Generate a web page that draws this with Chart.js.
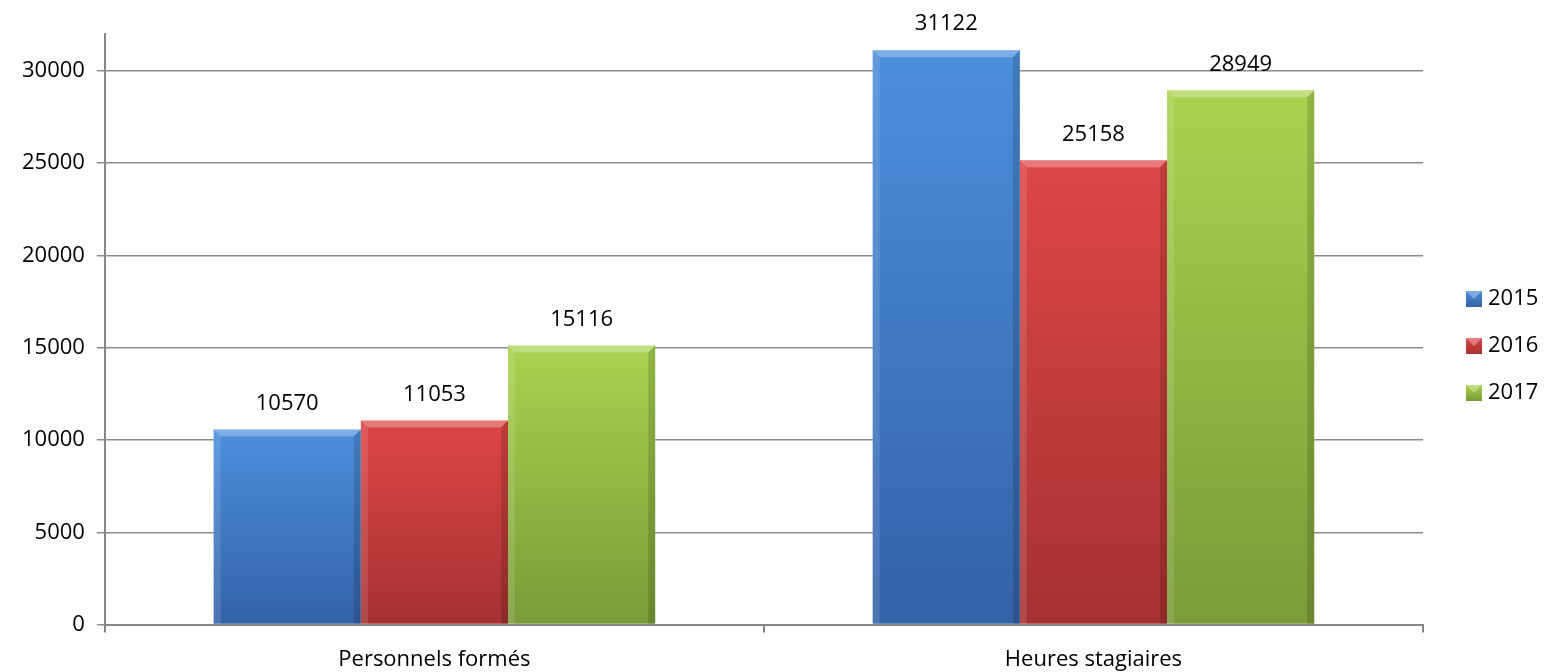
<!DOCTYPE html>
<html lang="fr">
<head>
    <meta charset="UTF-8">
    <title>Personnels formés / Heures stagiaires</title>
    <script src="https://cdn.jsdelivr.net/npm/chart.js"></script>
    <style>
        * { margin: 0; padding: 0; box-sizing: border-box; }
        body { background: #fff; width: 1547px; height: 672px; overflow: hidden; }
        .wrap { position: relative; width: 1547px; height: 672px; }
    </style>
</head>
<body>
    <div class="wrap">
        <canvas id="chart" width="1547" height="672"></canvas>
    </div>

    <script>
        // Données
        const categories = ['Personnels formés', 'Heures stagiaires'];
        const years = ['2015', '2016', '2017'];
        const values2015 = [10570, 31122];
        const values2016 = [11053, 25158];
        const values2017 = [15116, 28949];
        const yTicks = [0, 5000, 10000, 15000, 20000, 25000, 30000];

        // Couleurs (haut / bas du dégradé)
        const palette = [
            { top: '#4c8fdd', bottom: '#3362a6', flat: '#3f7ac6' },
            { top: '#de4646', bottom: '#a53131', flat: '#c33c3c' },
            { top: '#a9d34f', bottom: '#7a9b37', flat: '#94b844' }
        ];

        const FONT = "'Open Sans', 'Noto Sans', sans-serif";

        function barFill(i) {
            return function(ctx) {
                const chart = ctx.chart;
                const y = chart.scales.y;
                if (!chart.chartArea || !y || ctx.raw == null) return palette[i].flat;
                const top = y.getPixelForValue(ctx.raw);
                const bottom = y.getPixelForValue(0);
                const g = chart.ctx.createLinearGradient(0, top, 0, bottom);
                g.addColorStop(0, palette[i].top);
                g.addColorStop(1, palette[i].bottom);
                return g;
            };
        }

        // effet biseau + étiquettes de valeurs
        const bevelAndLabels = {
            id: 'bevelAndLabels',
            afterDatasetsDraw(chart) {
                const c = chart.ctx;
                chart.data.datasets.forEach((ds, di) => {
                    const meta = chart.getDatasetMeta(di);
                    meta.data.forEach((bar, idx) => {
                        const left = bar.x - bar.width / 2;
                        const right = bar.x + bar.width / 2;
                        const top = bar.y;
                        const bottom = bar.base;
                        const b = 7;
                        c.save();
                        // haut clair
                        c.fillStyle = 'rgba(255,255,255,0.28)';
                        c.beginPath();
                        c.moveTo(left, top); c.lineTo(right, top);
                        c.lineTo(right - b, top + b); c.lineTo(left + b, top + b);
                        c.closePath(); c.fill();
                        // gauche clair
                        c.fillStyle = 'rgba(255,255,255,0.12)';
                        c.beginPath();
                        c.moveTo(left, top); c.lineTo(left + b, top + b);
                        c.lineTo(left + b, bottom); c.lineTo(left, bottom);
                        c.closePath(); c.fill();
                        // droite sombre
                        c.fillStyle = 'rgba(0,0,0,0.14)';
                        c.beginPath();
                        c.moveTo(right, top); c.lineTo(right - b, top + b);
                        c.lineTo(right - b, bottom); c.lineTo(right, bottom);
                        c.closePath(); c.fill();
                        // valeur
                        c.fillStyle = '#000';
                        c.font = '22px ' + FONT;
                        c.textAlign = 'center';
                        c.textBaseline = 'middle';
                        c.fillText(String(ds.data[idx]), bar.x, top - 26);
                        c.restore();
                    });
                });
            }
        };

        // légende à droite
        const sideLegend = {
            id: 'sideLegend',
            afterDraw(chart) {
                const c = chart.ctx;
                const area = chart.chartArea;
                const x = area.right + 43;
                const mid = 346;
                const step = 47;
                c.save();
                chart.data.datasets.forEach((ds, i) => {
                    const cy = mid + (i - 1) * step;
                    const g = c.createLinearGradient(0, cy - 8, 0, cy + 8);
                    g.addColorStop(0, palette[i].top);
                    g.addColorStop(1, palette[i].bottom);
                    c.fillStyle = g;
                    c.fillRect(x, cy - 8, 16, 16);
                    c.fillStyle = 'rgba(255,255,255,0.3)';
                    c.beginPath();
                    c.moveTo(x, cy - 8); c.lineTo(x + 16, cy - 8); c.lineTo(x + 8, cy);
                    c.closePath(); c.fill();
                    c.fillStyle = '#000';
                    c.font = '22px ' + FONT;
                    c.textAlign = 'left';
                    c.textBaseline = 'middle';
                    c.fillText(ds.label, x + 22, cy);
                });
                c.restore();
            }
        };

        const seriesValues = [values2015, values2016, values2017];

        new Chart(document.getElementById('chart').getContext('2d'), {
            type: 'bar',
            data: {
                labels: categories,
                datasets: years.map((yr, i) => ({
                    label: yr,
                    data: seriesValues[i],
                    backgroundColor: barFill(i),
                    borderWidth: 0,
                    categoryPercentage: 0.67,
                    barPercentage: 1.0
                }))
            },
            options: {
                responsive: false,
                animation: false,
                layout: { padding: { top: 34, right: 124, left: 10, bottom: -15 } },
                plugins: {
                    legend: { display: false },
                    tooltip: { enabled: false }
                },
                scales: {
                    x: {
                        grid: {
                            offset: true,
                            drawOnChartArea: false,
                            drawTicks: true,
                            tickLength: 8,
                            color: '#868686',
                            lineWidth: 2
                        },
                        border: { color: '#868686', width: 2 },
                        ticks: {
                            color: '#000',
                            padding: 14,
                            font: { family: FONT, size: 22 }
                        }
                    },
                    y: {
                        min: 0,
                        max: 32000,
                        afterBuildTicks(scale) {
                            scale.ticks = yTicks.map(v => ({ value: v }));
                        },
                        grid: {
                            color: '#8c8c8c',
                            lineWidth: 1.5,
                            tickLength: 8
                        },
                        border: { color: '#868686', width: 2 },
                        ticks: {
                            color: '#000',
                            padding: 12,
                            font: { family: FONT, size: 22 },
                            callback: v => String(v)
                        }
                    }
                }
            },
            plugins: [bevelAndLabels, sideLegend]
        });
    </script>
</body>
</html>
